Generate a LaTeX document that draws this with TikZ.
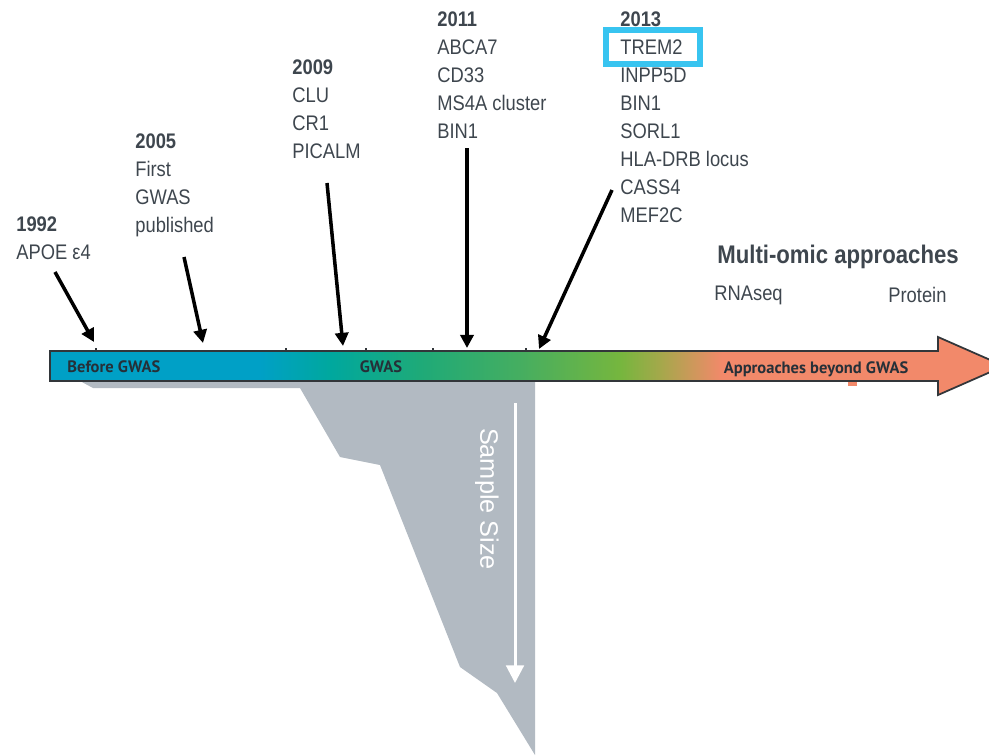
\documentclass[tikz,border=0pt]{standalone}
\usepackage{fontspec}
\setmainfont{Liberation Sans}[FakeStretch=0.87]
\newfontfamily\sizefont{Liberation Sans}
\newfontfamily\barfont{PT Sans}
\usetikzlibrary{arrows.meta}
\definecolor{labelgray}{RGB}{62,70,78}
\definecolor{bartext}{RGB}{38,48,56}
\definecolor{baredge}{RGB}{50,54,58}
\definecolor{samplegray}{RGB}{178,186,194}
\definecolor{highlightcyan}{RGB}{56,196,240}
\definecolor{gwasblue}{RGB}{0,160,198}
\definecolor{gwasteal}{RGB}{0,168,158}
\definecolor{gwasgreen}{RGB}{30,170,120}
\definecolor{midgreen}{RGB}{70,174,96}
\definecolor{limegreen}{RGB}{118,182,62}
\definecolor{olivetone}{RGB}{165,168,75}
\definecolor{salmon}{RGB}{242,137,106}

\pgfdeclarehorizontalshading{timeline}{100bp}{
  color(0bp)=(gwasblue); color(36.0bp)=(gwasblue);
  color(39.7bp)=(gwasteal); color(44.4bp)=(gwasgreen);
  color(49.7bp)=(midgreen); color(54.9bp)=(limegreen);
  color(57.0bp)=(olivetone); color(60.2bp)=(salmon);
  color(100bp)=(salmon)}

\begin{document}
\begin{tikzpicture}[
    x=0.02cm, y=-0.02cm,
    every node/.style={inner sep=0pt},
    findlabel/.style={anchor=north west, align=left, text=labelgray,
      font=\fontsize{12}{15.9}\selectfont},
    barlabel/.style={anchor=base west, text=bartext,
      font=\barfont\bfseries\fontsize{9.4}{10}\selectfont},
    findarrow/.style={line width=2pt, -{Triangle[length=7.5pt,width=7.5pt]}},
    >=Stealth
  ]
  \useasboundingbox (0,0) rectangle (989,755);
  \clip (0,0) rectangle (989,755);

  % ============================================================
  %  Sample size wedge
  % ============================================================
  \fill[samplegray] (80,381) -- (93,388) -- (300,388) -- (340,457)
    -- (380,465) -- (460,667) -- (497,693) -- (535,755) -- (535,381) -- cycle;

  \coordinate (sizetop) at (515,403);
  \coordinate (sizebot) at (515,683);
  \draw[white, line width=1.7pt, -{Triangle[length=10pt,width=10pt]}]
    (sizetop) -- (sizebot);
  \node[rotate=-90, text=white, font=\sizefont\fontsize{14.4}{17}\selectfont]
    (samplesize) at (487,499) {Sample Size};

  % ============================================================
  %  Timeline arrow
  % ============================================================
  \fill[salmon] (848,380) rectangle (857,386);
  \shade[shading=timeline, draw=baredge, line width=1pt]
    (50,351) -- (938,351) -- (938,337) -- (1004,366) -- (938,395)
    -- (938,381) -- (50,381) -- cycle;
  \foreach \tx in {96,286,366,433,526}
    \draw[baredge, line width=0.8pt] (\tx,351) -- (\tx,348);

  \node[barlabel] (before) at (67,372.7) {Before GWAS};
  \node[barlabel] (gwas) at (359.5,372.5) {GWAS};
  \node[barlabel] (beyond) at (723.5,373) {Approaches beyond GWAS};

  % ============================================================
  %  Findings by year
  % ============================================================
  \node[findlabel] (y1992) at (16,216) {\textbf{1992}\\APOE ε4};
  \node[findlabel] (y2005) at (135,133.5)
    {\textbf{2005}\\First\\GWAS\\published};
  \node[findlabel] (y2009) at (292,59.5) {\textbf{2009}\\CLU\\CR1\\PICALM};
  \node[findlabel] (y2011) at (437,11.5)
    {\textbf{2011}\\ABCA7\\CD33\\MS4A cluster\\BIN1};
  \node[findlabel] (y2013) at (620,11.5)
    {\textbf{2013}\\TREM2\\INPP5D\\BIN1\\SORL1\\HLA-DRB locus\\CASS4\\MEF2C};

  % highlight box round TREM2
  \draw[highlightcyan, line width=3.4pt] (606,30) rectangle (700,64);

  % arrows down to the timeline
  \coordinate (s1992) at (55,272);   \coordinate (e1992) at (94,342);
  \coordinate (s2005) at (184,257);  \coordinate (e2005) at (203,343);
  \coordinate (s2009) at (327,183);  \coordinate (e2009) at (343,346);
  \coordinate (s2011) at (467,148);  \coordinate (e2011) at (467,348);
  \coordinate (s2013) at (612,190);  \coordinate (e2013) at (539,349);
  \foreach \yr in {1992,2005,2009,2011,2013}
    \draw[findarrow] (s\yr) -- (e\yr);

  % ============================================================
  %  Beyond GWAS
  % ============================================================
  \node[anchor=base west, text=labelgray,
        font=\bfseries\fontsize{14.5}{17}\selectfont]
    (multiomic) at (717,263) {Multi-omic approaches};
  \node[anchor=base west, text=labelgray, font=\fontsize{12}{14}\selectfont]
    (rnaseq) at (714,300.5) {RNAseq};
  \node[anchor=base west, text=labelgray, font=\fontsize{12}{14}\selectfont]
    (protein) at (888,302) {Protein};

\end{tikzpicture}
\end{document}
